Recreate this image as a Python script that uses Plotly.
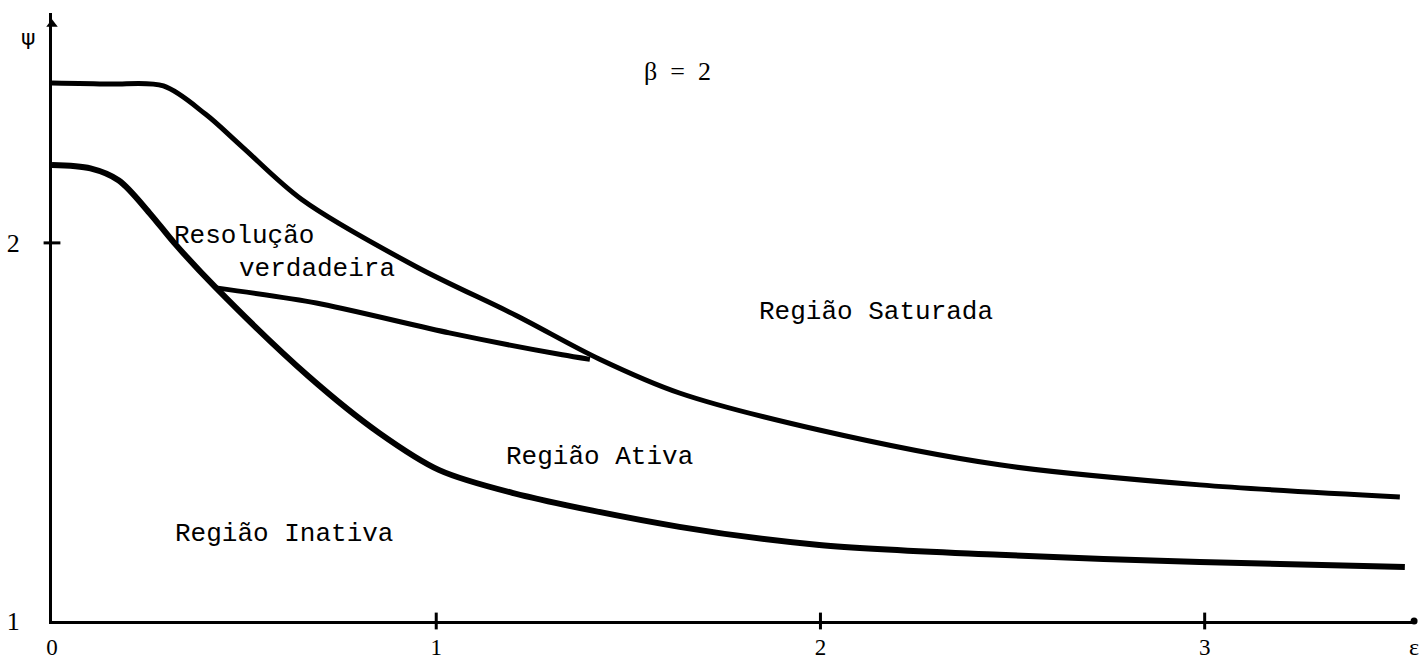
import plotly.graph_objects as go

# Upper curve (boundary of saturated region)
sat_eps = [0.0, 0.15, 0.29, 0.40, 0.495, 0.651, 0.948, 1.208, 1.424, 1.633, 1.997, 2.466, 2.987, 3.508]
sat_psi = [2.423, 2.420, 2.415, 2.340, 2.254, 2.114, 1.937, 1.808, 1.693, 1.603, 1.505, 1.413, 1.360, 1.328]

# Lower curve (boundary of inactive region)
ina_eps = [0.0, 0.10, 0.174, 0.253, 0.318, 0.427, 0.669, 0.852, 1.008, 1.198, 1.633, 1.997, 2.466, 2.987, 3.521]
ina_psi = [2.206, 2.197, 2.165, 2.080, 2.000, 1.881, 1.646, 1.497, 1.399, 1.339, 1.249, 1.201, 1.175, 1.156, 1.143]

# Middle curve (true resolution)
res_eps = [0.427, 0.688, 1.034, 1.328, 1.400]
res_psi = [1.881, 1.841, 1.762, 1.704, 1.692]

x_ticks = [0, 1, 2, 3]
x_tick_text = ["0", "1", "2", "3"]
y_ticks = [1, 2]
y_tick_text = ["1", "2"]

X_MAX = 3.55
Y_MAX = 2.608

fig = go.Figure()
fig.add_trace(go.Scatter(x=sat_eps, y=sat_psi, mode="lines",
                         line=dict(color="black", width=5, shape="spline", smoothing=0.9)))
fig.add_trace(go.Scatter(x=ina_eps, y=ina_psi, mode="lines",
                         line=dict(color="black", width=6, shape="spline", smoothing=0.9)))
fig.add_trace(go.Scatter(x=res_eps, y=res_psi, mode="lines",
                         line=dict(color="black", width=5, shape="spline", smoothing=0.7)))
# axis arrow head and end dot
fig.add_trace(go.Scatter(x=[0], y=[Y_MAX - 0.03], mode="markers", cliponaxis=False,
                         marker=dict(symbol="triangle-up", size=10, color="black")))
fig.add_trace(go.Scatter(x=[X_MAX - 0.005], y=[1], mode="markers", cliponaxis=False,
                         marker=dict(symbol="circle", size=7, color="black")))
# cross ticks
fig.add_trace(go.Scatter(x=x_ticks[1:], y=[1] * 3, mode="markers", cliponaxis=False,
                         marker=dict(symbol="line-ns", size=12, line=dict(width=3, color="black"))))
fig.add_trace(go.Scatter(x=[0], y=[2], mode="markers", cliponaxis=False,
                         marker=dict(symbol="line-ew", size=12, line=dict(width=3, color="black"))))

label_font = dict(family="Liberation Mono", size=26, color="black")
annos = [
    ("Região Saturada", 2.145, 1.818),
    ("Região Ativa", 1.425, 1.434),
    ("Região Inativa", 0.604, 1.230),
    ("Resolução", 0.500, 2.019),
    ("verdadeira", 0.690, 1.931),
]
for text, x, y in annos:
    fig.add_annotation(x=x, y=y, text=text, showarrow=False, font=label_font)
fig.add_annotation(x=1.629, y=2.452, text="β  =  2", showarrow=False,
                   font=dict(family="Liberation Serif", size=26, color="black"))
fig.add_annotation(x=0, y=2.542, xshift=-24, text="ψ", showarrow=False,
                   font=dict(family="DejaVu Sans", size=22, color="black"))
fig.add_annotation(x=X_MAX, y=1, yshift=-26, xshift=-2, text="ε", showarrow=False,
                   font=dict(family="Liberation Serif", size=24, color="black"))

fig.update_layout(
    width=1420, height=662,
    margin=dict(l=52, r=4, t=13, b=41),
    paper_bgcolor="white", plot_bgcolor="white",
    showlegend=False,
    xaxis=dict(range=[0, X_MAX], tickvals=x_ticks, ticktext=x_tick_text, automargin=False,
               showgrid=False, zeroline=False, showline=True, linecolor="black", linewidth=3,
               ticks="", ticklabelstandoff=3,
               tickfont=dict(family="Liberation Serif", size=23, color="black")),
    yaxis=dict(range=[1, Y_MAX], tickvals=y_ticks, ticktext=y_tick_text, automargin=False,
               showgrid=False, zeroline=False, showline=True, linecolor="black", linewidth=3,
               ticks="", ticklabelstandoff=24,
               tickfont=dict(family="Liberation Serif", size=26, color="black")),
)
fig.write_html(
    "out.html",
    config={"displayModeBar": False},
    post_script="document.documentElement.style.margin='0';document.body.style.margin='0';"
                "document.body.style.overflow='hidden';",
)
